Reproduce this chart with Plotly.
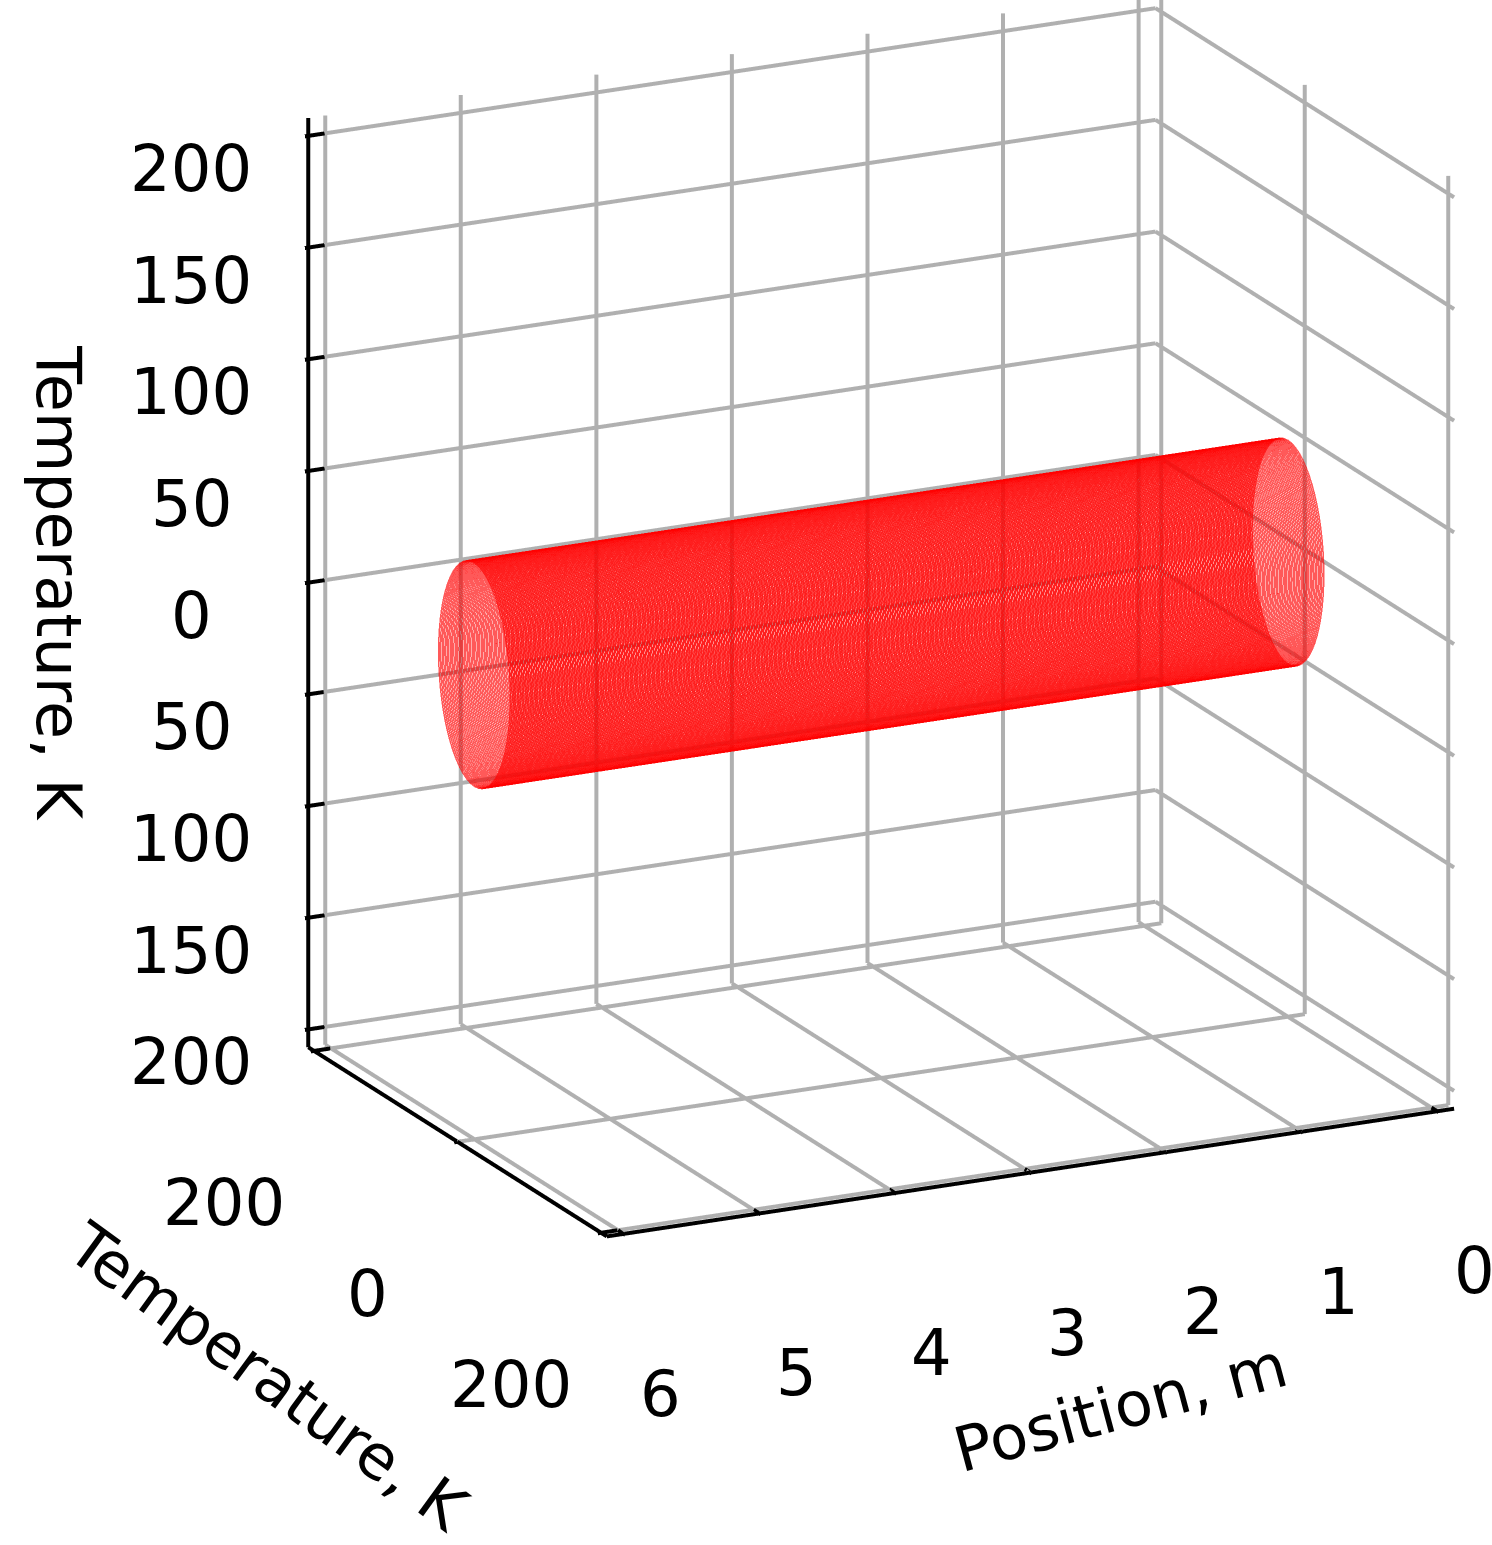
import numpy as np
import plotly.graph_objects as go

# Data
position_m = np.linspace(0.0, 6.0, 481)          # cross-section positions along the pipe
radius_K = 50.0                                   # temperature amplitude (circle radius)
x_ticks = [0, 1, 2, 3, 4, 5, 6]
x_ticktext = ["0", "1", "2", "3", "4", "5", "6"]
y_ticks = [-200, 0, 200]
y_ticktext = ["200", "0", "200"]
z_ticks = [-200, -150, -100, -50, 0, 50, 100, 150, 200]
z_ticktext = ["200", "150", "100", "50", "0", "50", "100", "150", "200"]
x_title = "Position, m"
y_title = "Temperature, K"
z_title = "Temperature, K"
x_lim = [-0.125, 6.125]
y_lim = [-208, 208]
z_lim = [-208, 208]

theta = np.linspace(0, 2 * np.pi, 61)
xs, ys, zs = [], [], []
for p in position_m:
    xs.extend(list(np.full(theta.size, p)) + [None])
    ys.extend(list(radius_K * np.cos(theta)) + [None])
    zs.extend(list(radius_K * np.sin(theta)) + [None])

fig = go.Figure()

# grid lines on the three back panes (drawn from the tick arrays)
gx, gy, gz = [], [], []
def seg(a, b):
    gx.extend([a[0], b[0], None]); gy.extend([a[1], b[1], None]); gz.extend([a[2], b[2], None])
x0, x1 = x_lim; y0, y1 = y_lim; z0, z1 = z_lim
for xv in x_ticks:
    seg((xv, y0, z0), (xv, y0, z1))      # back wall verticals
    seg((xv, y0, z0), (xv, y1, z0))      # floor
for yv in y_ticks:
    seg((x0, yv, z0), (x0, yv, z1))      # right wall verticals
    seg((x0, yv, z0), (x1, yv, z0))      # floor
for zv in z_ticks:
    seg((x0, y0, zv), (x1, y0, zv))      # back wall horizontals
    seg((x0, y0, zv), (x0, y1, zv))      # right wall horizontals
fig.add_trace(go.Scatter3d(x=gx, y=gy, z=gz, mode="lines",
                           line=dict(color="#b0b0b0", width=8),
                           hoverinfo="skip", showlegend=False))

# black axis lines with tick marks
ax, ay, az = [], [], []
def aseg(a, b):
    ax.extend([a[0], b[0], None]); ay.extend([a[1], b[1], None]); az.extend([a[2], b[2], None])
aseg((x0, y1, z0), (x1, y1, z0))
aseg((x1, y0, z0), (x1, y1, z0))
aseg((x1, y0, z0), (x1, y0, z1))
for xv in x_ticks:
    aseg((xv, y1 - 8, z0), (xv, y1 + 8, z0))
for yv in y_ticks:
    aseg((x1 - 0.12, yv, z0), (x1 + 0.12, yv, z0))
for zv in z_ticks:
    aseg((x1 + 0.12, y0, zv), (x1 - 0.12, y0, zv))
fig.add_trace(go.Scatter3d(x=ax, y=ay, z=az, mode="lines",
                           line=dict(color="black", width=8),
                           hoverinfo="skip", showlegend=False))

fig.add_trace(go.Scatter3d(
    x=xs, y=ys, z=zs, mode="lines",
    line=dict(color="red", width=3),
    opacity=0.65, hoverinfo="skip", showlegend=False,
))

# tick labels and axis titles as scene annotations anchored on the axes
tick_font = dict(family="DejaVu Sans", size=64, color="black")
title_font = dict(family="DejaVu Sans", size=62, color="black")
ann = []
for xv, t in zip(x_ticks, x_ticktext):
    ann.append(dict(x=xv, y=y1, z=z0, text=t, showarrow=False, font=tick_font,
                    xanchor="center", yanchor="middle", xshift=37, yshift=-160))
for yv, t in zip(y_ticks, y_ticktext):
    ann.append(dict(x=x1, y=yv, z=z0, text=t, showarrow=False, font=tick_font,
                    xanchor="center", yanchor="middle", xshift=-90, yshift=-152))
for zv, t in zip(z_ticks, z_ticktext):
    ann.append(dict(x=x1, y=y0, z=zv, text=t, showarrow=False, font=tick_font,
                    xanchor="center", yanchor="middle", xshift=-117, yshift=-33))
ann.append(dict(x=3, y=y1, z=z0, text=x_title, showarrow=False, font=title_font,
                textangle=-15, xanchor="center", yanchor="middle", xshift=90, yshift=-235))
ann.append(dict(x=x1, y=0, z=z0, text=y_title, showarrow=False, font=title_font,
                textangle=36, xanchor="center", yanchor="middle", xshift=-190, yshift=-235))
ann.append(dict(x=x1, y=y0, z=0, text=z_title, showarrow=False, font=title_font,
                textangle=90, xanchor="center", yanchor="middle", xshift=-250, yshift=0))

common = dict(
    showbackground=False, showgrid=False, showline=False, ticks="",
    showticklabels=False, title=dict(text=""), zeroline=False, showspikes=False,
)
phi = np.radians(26)
el = np.radians(18)
r = 2.0
d = np.array([np.sin(phi) * np.cos(el), np.cos(phi) * np.cos(el), np.sin(el)])
right = np.array([-np.cos(phi), np.sin(phi), 0.0])
up = np.array([-np.sin(phi) * np.sin(el), -np.cos(phi) * np.sin(el), np.cos(el)])
c = -right * 0.175 - up * 0.206
eye = c + r * d
fig.update_layout(
    width=1492, height=1545,
    margin=dict(l=0, r=0, t=0, b=0),
    paper_bgcolor="white",
    scene=dict(
        xaxis=dict(range=[-0.15, 6.15], **common),
        yaxis=dict(range=[-210, 210], **common),
        zaxis=dict(range=[-210, 210], **common),
        aspectmode="manual",
        aspectratio=dict(x=1.23, y=0.89, z=1.277),
        camera=dict(
            eye=dict(x=eye[0], y=eye[1], z=eye[2]),
            center=dict(x=c[0], y=c[1], z=c[2]),
            up=dict(x=0, y=0, z=1),
            projection=dict(type="orthographic"),
        ),
        annotations=ann,
    ),
)
fig.write_html("out.html")
